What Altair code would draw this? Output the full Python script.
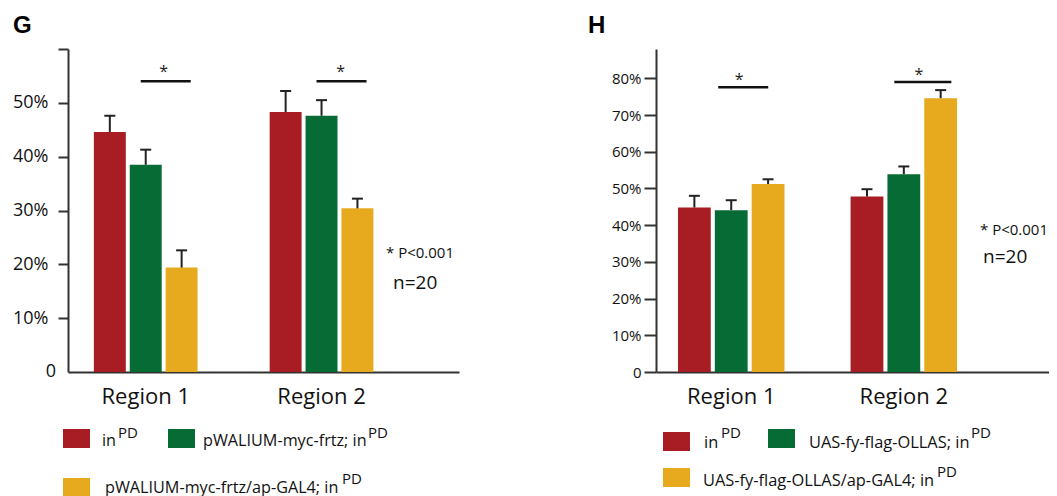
import altair as alt
import pandas as pd

FONT = "Open Sans"
INK = "#222222"
AXIS = "#333333"

regions = ["Region 1", "Region 2"]
colors = ["#A71D23", "#066B34", "#E7AA1E"]
superscript = "PD"
p_text = "* P<0.001"
n_text = "n=20"

# Panel G
g_series = ["in", "pWALIUM-myc-frtz; in", "pWALIUM-myc-frtz/ap-GAL4; in"]
g_region1_mean = [44.6, 38.5, 19.4]
g_region2_mean = [48.3, 47.6, 30.4]
g_region1_err = [47.6, 41.3, 22.6]
g_region2_err = [52.2, 50.5, 32.2]
g_sig = [54.0, 54.0]
g_ticks = [0, 10, 20, 30, 40, 50, 60]

# Panel H
h_series = ["in", "UAS-fy-flag-OLLAS; in", "UAS-fy-flag-OLLAS/ap-GAL4; in"]
h_region1_mean = [44.8, 44.1, 51.2]
h_region2_mean = [47.8, 53.9, 74.6]
h_region1_err = [48.0, 46.8, 52.5]
h_region2_err = [49.8, 56.0, 76.8]
h_sig = [77.6, 79.0]
h_ticks = [0, 10, 20, 30, 40, 50, 60, 70, 80]

HEIGHT = 323
one = pd.DataFrame({"a": [0]})


def legend_item(color, label, rx, ry, tx, ty, sx, sy, fs):
    rect = alt.Chart(one).mark_rect(color=color).encode(
        x=alt.value(rx), x2=alt.value(rx + 27), y=alt.value(ry), y2=alt.value(ry + 19)
    )
    txt = alt.Chart(one).mark_text(
        text=label, align="left", baseline="alphabetic", fontSize=fs, font=FONT, color="#111"
    ).encode(x=alt.value(tx), y=alt.value(ty))
    sup = alt.Chart(one).mark_text(
        text=superscript, align="left", baseline="alphabetic", fontSize=15, font=FONT, color="#111"
    ).encode(x=alt.value(sx), y=alt.value(sy))
    return [rect, txt, sup]


def panel(letter, series, means, errs, sig, ticks, ymax, width, xscale, yaxis,
          sig_geo, star_geo, letter_x, notes, legend, zero_label, legend_fs):
    rows = []
    for ri, r in enumerate(regions):
        for si, s in enumerate(series):
            rows.append({"region": r, "series": s, "mean": means[ri][si], "err": errs[ri][si]})
    df = pd.DataFrame(rows)
    sig_df = pd.DataFrame({"region": regions, "level": sig})

    x = alt.X("region:N", scale=alt.Scale(domain=regions, **xscale),
              axis=alt.Axis(title=None, labelAngle=0, ticks=False, labelFontSize=22,
                            labelFont=FONT, labelColor="#111", labelPadding=14,
                            domainColor=AXIS, domainWidth=2))
    xo = alt.XOffset("series:N", scale=alt.Scale(domain=series, paddingInner=0.11, paddingOuter=0))
    y = alt.Y("mean:Q", scale=alt.Scale(domain=[0, ymax], nice=False, zero=True),
              axis=yaxis)

    base = alt.Chart(df)
    bars = base.mark_bar().encode(
        x=x, xOffset=xo, y=y,
        color=alt.Color("series:N", scale=alt.Scale(domain=series, range=colors), legend=None),
    )
    whisk = base.mark_rule(color=INK, strokeWidth=2).encode(
        x=x, xOffset=xo, y=y, y2="err:Q"
    )
    caps = base.mark_tick(color=INK, orient="horizontal", size=11, thickness=2, opacity=1).encode(
        x=x, xOffset=xo, y=alt.Y("err:Q")
    )
    layers = [bars, whisk, caps]
    sbase = alt.Chart(sig_df)
    for i, r in enumerate(regions):
        off, size = sig_geo[i]
        sx, sdy = star_geo[i]
        layers.append(
            sbase.transform_filter(alt.datum.region == r).mark_tick(
                color="#111", orient="horizontal", size=size, thickness=2.5, xOffset=off, opacity=1
            ).encode(x=alt.X("region:N"), y=alt.Y("level:Q"))
        )
        layers.append(
            sbase.transform_filter(alt.datum.region == r).mark_text(
                text="*", fontSize=16, font=FONT, color=INK, dx=sx, dy=sdy, baseline="alphabetic"
            ).encode(x=alt.X("region:N"), y=alt.Y("level:Q"))
        )
    # panel letter
    layers.append(alt.Chart(one).mark_text(
        text=letter, fontSize=24, fontWeight="bold", font="Liberation Sans", align="left",
        baseline="alphabetic", color="#000").encode(x=alt.value(letter_x), y=alt.value(-16)))
    # notes
    (px, py), (nx, ny) = notes
    layers.append(alt.Chart(one).mark_text(
        text=p_text, fontSize=15, font=FONT, align="left", baseline="middle", color="#111"
    ).encode(x=alt.value(px), y=alt.value(py)))
    layers.append(alt.Chart(one).mark_text(
        text=n_text, fontSize=19, font=FONT, align="left", baseline="middle", color="#111"
    ).encode(x=alt.value(nx), y=alt.value(ny)))
    if zero_label is not None:
        layers.append(alt.Chart(one).mark_text(
            text="0", fontSize=18, font=FONT, align="right", baseline="middle", color="#111"
        ).encode(x=alt.value(zero_label), y=alt.value(HEIGHT)))
    for i in range(3):
        layers += legend_item(colors[i], series[i], *legend[i], legend_fs)
    return alt.layer(*layers).properties(width=width, height=HEIGHT)


g_axis = alt.Axis(
    title=None, values=g_ticks, grid=False,
    labelExpr="datum.value == 0 || datum.value == 60 ? '' : datum.value + '%'",
    labelFontSize=18, labelFont=FONT, labelColor="#111", labelPadding=10,
    tickSize=10, tickWidth=2, tickColor=AXIS,
    tickOpacity={"condition": {"test": "datum.value == 0", "value": 0}, "value": 1},
    domainColor=AXIS, domainWidth=2,
)
h_axis = alt.Axis(
    title=None, values=h_ticks, grid=False,
    labelExpr="datum.value == 0 ? '0' : datum.value + '%'",
    labelFontSize=15, labelFont=FONT, labelColor="#111", labelPadding=3,
    tickSize=12, tickWidth=2, tickColor=AXIS,
    domainColor=AXIS, domainWidth=2,
)

g = panel(
    "G", g_series,
    [g_region1_mean, g_region2_mean], [g_region1_err, g_region2_err],
    g_sig, g_ticks, 60, 391,
    dict(paddingInner=0.41, paddingOuter=0.317, align=0.232),
    g_axis,
    sig_geo=[(20, 50), (20, 50)],
    star_geo=[(18, -4), (19, -4)],
    letter_x=-55,
    notes=[(318, 204), (325, 234)],
    legend=[
        (-5, 380, 34, 397, 50, 389),
        (100, 380, 135, 397, 300, 389),
        (-5, 429, 37, 444, 274, 435),
    ],
    zero_label=-12,
    legend_fs=16.2,
)

h = panel(
    "H", h_series,
    [h_region1_mean, h_region2_mean], [h_region1_err, h_region2_err],
    h_sig, h_ticks, 88, 393,
    dict(paddingInner=0.383, paddingOuter=0.33, align=0.193),
    h_axis,
    sig_geo=[(12, 50), (19, 57)],
    star_geo=[(8, -2), (15, -2)],
    letter_x=-68,
    notes=[(324, 181), (327, 208)],
    legend=[
        (7, 383, 48, 399, 65, 389),
        (112, 380, 153, 399, 315, 389),
        (7, 419, 47, 437, 281, 428),
    ],
    zero_label=None,
    legend_fs=16.4,
)

chart = alt.hconcat(g, h, spacing=129).resolve_scale(
    x="independent", y="independent", xOffset="independent", color="independent"
).properties(
    padding={"top": 6, "left": 4, "right": 0, "bottom": 0}
).configure_view(stroke=None)

chart.save("out.html", embed_options={"renderer": "svg", "actions": False})
